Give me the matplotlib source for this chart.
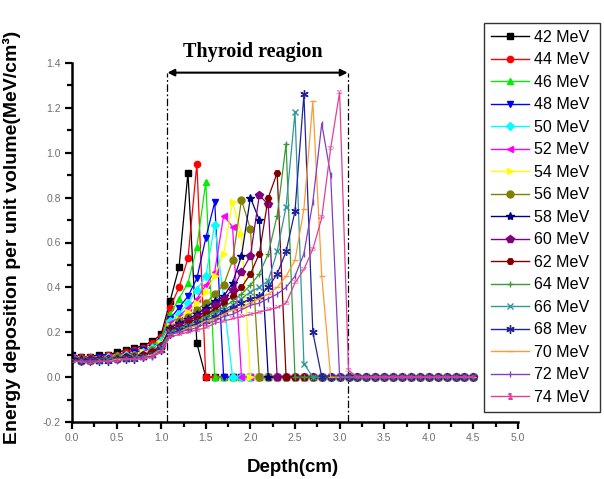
import numpy as np
import matplotlib
matplotlib.use('Agg')
import matplotlib.pyplot as plt
from matplotlib.lines import Line2D
from matplotlib.ticker import MultipleLocator

# ---------------- data ----------------
depth = np.round(np.arange(0, 46) * 0.1, 1)   # 0.0 ... 4.5 cm

labels = ["42 MeV", "44 MeV", "46 MeV", "48 MeV", "50 MeV", "52 MeV", "54 MeV",
          "56 MeV", "58 MeV", "60 MeV", "62 MeV", "64 MeV", "66 MeV", "68 Mev",
          "70 MeV", "72 MeV", "74 MeV"]

d42 = [0.10, 0.09, 0.09, 0.10, 0.10, 0.11, 0.12, 0.13, 0.14, 0.16, 0.19,
       0.34, 0.49, 0.91, 0.15, 0.0]
d44 = [0.09, 0.09, 0.09, 0.09, 0.10, 0.10, 0.11, 0.12, 0.13, 0.15, 0.18,
       0.31, 0.40, 0.53, 0.95, 0.0]
d46 = [0.09, 0.08, 0.09, 0.09, 0.09, 0.10, 0.10, 0.11, 0.12, 0.14, 0.17,
       0.28, 0.35, 0.42, 0.58, 0.87, 0.0]
d48 = [0.09, 0.08, 0.08, 0.09, 0.09, 0.09, 0.10, 0.11, 0.12, 0.13, 0.16,
       0.26, 0.31, 0.36, 0.44, 0.62, 0.78, 0.0]
d50 = [0.09, 0.08, 0.08, 0.08, 0.09, 0.09, 0.10, 0.10, 0.11, 0.13, 0.16,
       0.25, 0.28, 0.33, 0.39, 0.45, 0.68, 0.35, 0.0]
d52 = [0.09, 0.08, 0.08, 0.08, 0.09, 0.09, 0.09, 0.10, 0.11, 0.12, 0.15,
       0.24, 0.27, 0.31, 0.35, 0.41, 0.47, 0.72, 0.67, 0.0]
d54 = [0.08, 0.08, 0.08, 0.08, 0.08, 0.09, 0.09, 0.10, 0.11, 0.12, 0.15,
       0.23, 0.26, 0.29, 0.33, 0.38, 0.45, 0.55, 0.78, 0.64, 0.0]
d56 = [0.08, 0.08, 0.08, 0.08, 0.08, 0.09, 0.09, 0.10, 0.10, 0.12, 0.14,
       0.22, 0.25, 0.27, 0.30, 0.33, 0.37, 0.41, 0.52, 0.79, 0.66, 0.0]
d58 = [0.08, 0.08, 0.08, 0.08, 0.08, 0.08, 0.09, 0.09, 0.10, 0.11, 0.14,
       0.22, 0.24, 0.26, 0.28, 0.31, 0.34, 0.36, 0.42, 0.54, 0.80, 0.70, 0.0]
d60 = [0.08, 0.07, 0.08, 0.08, 0.08, 0.08, 0.09, 0.09, 0.10, 0.11, 0.14,
       0.21, 0.23, 0.25, 0.27, 0.29, 0.32, 0.35, 0.39, 0.47, 0.54, 0.81, 0.77, 0.0]
d62 = [0.08, 0.07, 0.07, 0.08, 0.08, 0.08, 0.09, 0.09, 0.10, 0.11, 0.13,
       0.21, 0.22, 0.24, 0.26, 0.28, 0.30, 0.33, 0.36, 0.40, 0.46, 0.55, 0.80, 0.91, 0.0]
d64 = [0.08, 0.07, 0.07, 0.08, 0.08, 0.08, 0.08, 0.09, 0.09, 0.10, 0.13,
       0.20, 0.22, 0.23, 0.25, 0.27, 0.29, 0.31, 0.34, 0.37, 0.41, 0.46, 0.55, 0.72, 1.04, 0.0]
d66 = [0.08, 0.07, 0.07, 0.07, 0.08, 0.08, 0.08, 0.09, 0.09, 0.10, 0.13,
       0.20, 0.21, 0.23, 0.24, 0.26, 0.28, 0.30, 0.32, 0.35, 0.38, 0.40, 0.43, 0.56, 0.76,
       1.18, 0.06, 0.0]
d68 = [0.08, 0.07, 0.07, 0.07, 0.07, 0.08, 0.08, 0.08, 0.09, 0.10, 0.12,
       0.19, 0.21, 0.22, 0.24, 0.25, 0.27, 0.29, 0.31, 0.33, 0.35, 0.36, 0.40, 0.46, 0.56,
       0.74, 1.26, 0.20, 0.0]
d70 = [0.07, 0.07, 0.07, 0.07, 0.07, 0.08, 0.08, 0.08, 0.09, 0.10, 0.12,
       0.19, 0.20, 0.22, 0.23, 0.25, 0.26, 0.28, 0.30, 0.31, 0.33, 0.35, 0.37, 0.40, 0.45,
       0.52, 0.75, 1.23, 0.45, 0.0]
d72 = [0.07, 0.07, 0.07, 0.07, 0.07, 0.07, 0.08, 0.08, 0.09, 0.09, 0.12,
       0.19, 0.20, 0.21, 0.22, 0.24, 0.25, 0.27, 0.28, 0.30, 0.32, 0.33, 0.35, 0.37, 0.40,
       0.45, 0.55, 0.78, 1.13, 0.90, 0.0]
d74 = [0.07, 0.07, 0.06, 0.07, 0.07, 0.07, 0.08, 0.08, 0.08, 0.09, 0.11,
       0.18, 0.19, 0.20, 0.21, 0.22, 0.24, 0.25, 0.26, 0.27, 0.28, 0.29, 0.30, 0.31, 0.33,
       0.42, 0.48, 0.57, 0.71, 1.02, 1.27, 0.03, 0.0]

series = [d42, d44, d46, d48, d50, d52, d54, d56, d58, d60, d62, d64, d66, d68,
          d70, d72, d74]

region_start, region_end = 1.07, 3.09

# ---------------- style ----------------
colors = ['#000000', '#FF0000', '#00EE00', '#0000FF', '#00FFFF', '#FF00FF',
          '#FFFF00', '#808000', '#000080', '#800080', '#800000', '#3A9A3A',
          '#2A9A9A', '#22229A', '#FF9933', '#8040C0', '#E0409A']
markers = ['s', 'o', '^', 'v', 'D', '<', '>', 'o', '*', 'p', 'H', '+', 'x',
           (6, 2, 0), '_', '|', None]
msizes = [4.5, 4.5, 5, 5, 4, 5, 5, 5, 6, 5.5, 4.5, 5, 5, 6, 5, 5, 4]

fig = plt.figure(figsize=(6.04, 4.79), dpi=100)
ax = fig.add_axes([72/604, 1-422/479, (518-72)/604, (422-63)/479])
ax.set_xlim(0, 5)
ax.set_ylim(-0.2, 1.4)

for i, vals in enumerate(series):
    y = np.array(vals + [0.0] * (len(depth) - len(vals)))
    m = markers[i]
    if m is None:
        ax.plot(depth, y, color=colors[i], lw=0.9, zorder=2+i*0.01)
        for k, (xx, yy) in enumerate(zip(depth, y)):
            ax.text(xx, yy, str(k+1), fontsize=4.5, color=colors[i],
                    ha='center', va='center', zorder=3, clip_on=False)
    else:
        ax.plot(depth, y, color=colors[i], lw=0.9, marker=m, ms=msizes[i],
                mec=colors[i], mfc=colors[i], mew=1.0, zorder=2+i*0.01)

for s in ['top', 'right']:
    ax.spines[s].set_visible(False)
for s in ['left', 'bottom']:
    ax.spines[s].set_linewidth(1.8)

ax.xaxis.set_major_locator(MultipleLocator(0.5))
ax.xaxis.set_minor_locator(MultipleLocator(0.25))
ax.yaxis.set_major_locator(MultipleLocator(0.2))
ax.yaxis.set_minor_locator(MultipleLocator(0.1))
ax.tick_params(which='major', direction='out', length=5, width=1.6,
               labelsize=7.5, labelcolor='#707070', pad=3)
ax.tick_params(which='minor', direction='out', length=3.5, width=1.6)
ax.set_xticklabels([f"{v:.1f}" for v in ax.get_xticks()], family='Liberation Sans')
ax.set_yticklabels([f"{v:.1f}" for v in ax.get_yticks()], family='Liberation Sans')

# thyroid region markers
ytop = 1.357
for xv in (region_start, region_end):
    ax.plot([xv, xv], [-0.2, ytop], color='black', lw=0.9,
            dashes=(6, 2, 1.5, 2), zorder=1)
ax.annotate('', xy=(region_start, ytop), xytext=(region_end, ytop),
            arrowprops=dict(arrowstyle='<|-|>', color='black', lw=1.5,
                            mutation_scale=10, shrinkA=0, shrinkB=0))
ax.text((region_start + region_end) / 2 - 0.05, 1.45, 'Thyroid reagion',
        ha='center', va='center', family='Liberation Serif', weight='bold',
        fontsize=14.5, clip_on=False)

fig.text(12/604, 1-237/479, 'Energy deposition per unit volume(MeV/cm³)',
         rotation=90, ha='center', va='center', family='Liberation Sans',
         weight='bold', fontsize=14)
fig.text(293/604, 1-467/479, 'Depth(cm)', ha='center', va='center',
         family='Liberation Sans', weight='bold', fontsize=13.5)

handles = []
for i in range(len(series)):
    m = markers[i] if markers[i] is not None else '$1$'
    handles.append(Line2D([], [], color=colors[i], lw=1.0, marker=m,
                          ms=msizes[i] if markers[i] is not None else 4,
                          mec=colors[i], mfc=colors[i]))
leg = fig.legend(handles, labels, loc='upper left',
                 bbox_to_anchor=(484/604, 1-23/479-0.01, (600-484)/604, 0.01),
                 mode='expand', frameon=True, fancybox=False,
                 edgecolor='black', borderaxespad=0,
                 prop={'family': 'Liberation Sans', 'size': 11.5},
                 handlelength=2.4, handletextpad=0.3, labelspacing=0.47,
                 borderpad=0.42)
leg.get_frame().set_linewidth(1.0)

fig.savefig('out.png', dpi=100)
